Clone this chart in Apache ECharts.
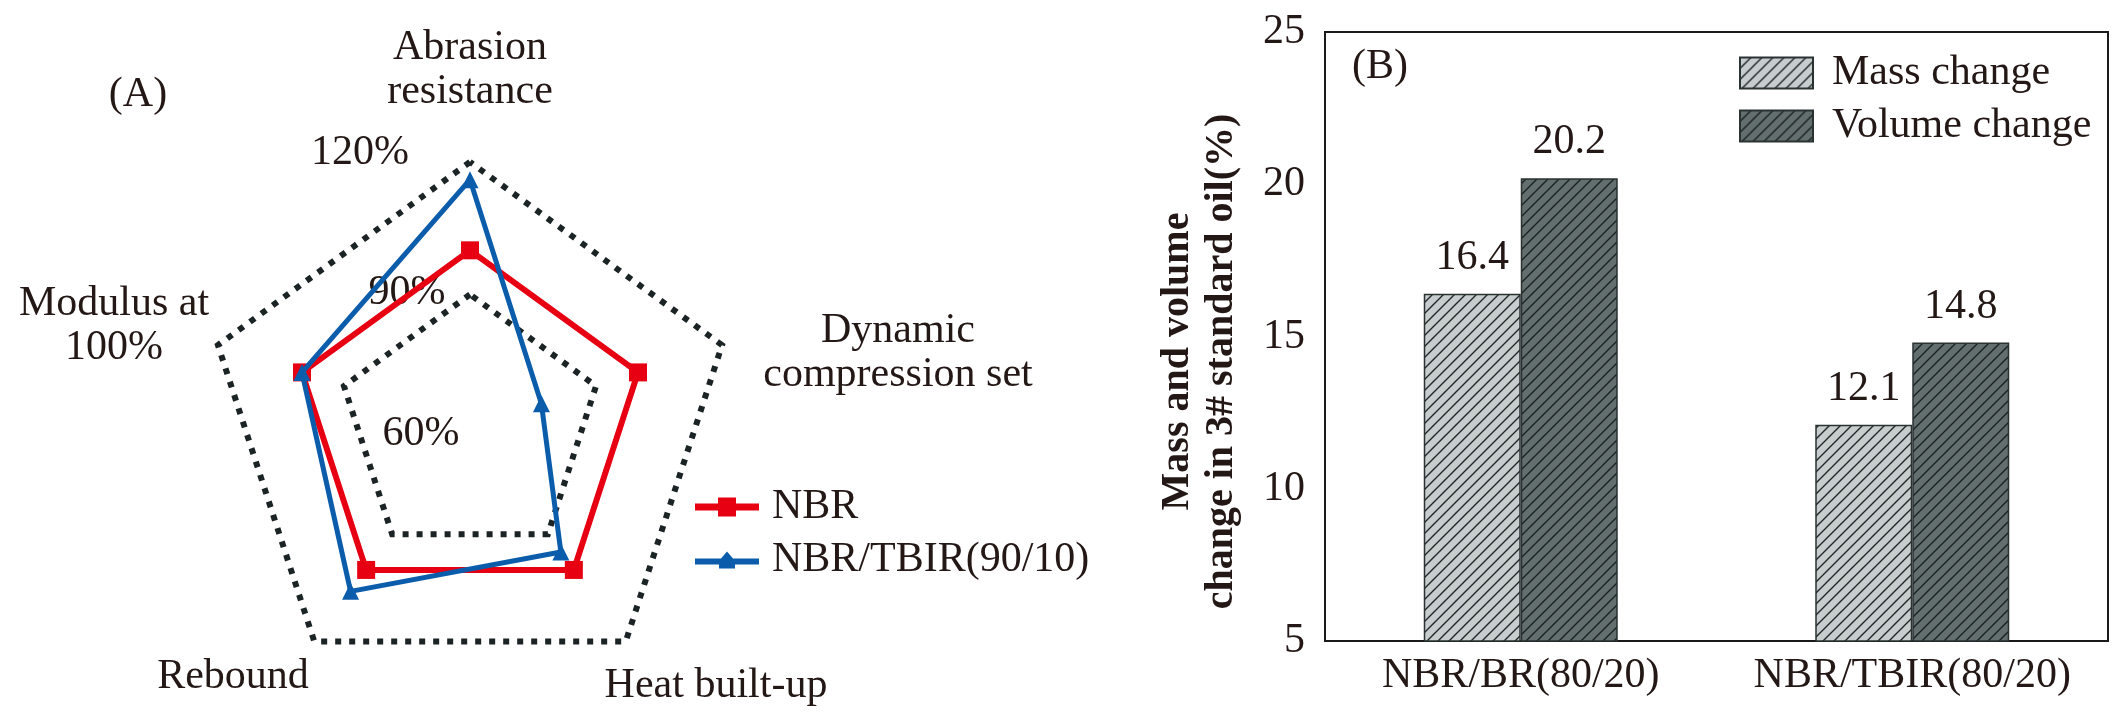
<!DOCTYPE html>
<html>
<head>
<meta charset="utf-8">
<script src="https://cdn.jsdelivr.net/npm/echarts@6/dist/echarts.min.js"></script>
<style>
html,body{margin:0;padding:0;background:#fff;}
#c{width:2128px;height:724px;}
</style>
</head>
<body>
<div id="c"></div>
<script>
// ---------- Data ----------
const radarIndicators = ['Abrasion\nresistance', 'Modulus at\n100%', 'Rebound', 'Heat built-up', 'Dynamic\ncompression set'];
const radarSeriesNames = ['NBR', 'NBR/TBIR(90/10)'];
const nbrValues = [100, 100, 100, 100, 100];
const tbirValues = [116, 100, 106, 95, 77];
const radarTickLabels = ['60%', '90%', '120%'];

const barCategories = ['NBR/BR(80/20)', 'NBR/TBIR(80/20)'];
const barSeriesNames = ['Mass change', 'Volume change'];
const massChange = [16.4, 12.1];
const volumeChange = [20.2, 14.8];

// ---------- Styles ----------
const TXT = '#231815';
const FONT = '"Liberation Serif", "DejaVu Serif", serif';

function hatch(bg, fg) {
  const s = 11;
  const c = document.createElement('canvas');
  c.width = s; c.height = s;
  const g = c.getContext('2d');
  g.fillStyle = bg; g.fillRect(0, 0, s, s);
  g.strokeStyle = fg; g.lineWidth = 1.4;
  g.beginPath();
  g.moveTo(-2, s + 2); g.lineTo(s + 2, -2);
  g.moveTo(-2, 2); g.lineTo(2, -2);
  g.moveTo(s - 2, s + 2); g.lineTo(s + 2, s - 2);
  g.stroke();
  return c;
}
const massPattern = { image: hatch('#c7cccd', '#1f2727'), repeat: 'repeat' };
const volPattern = { image: hatch('#636e6e', '#1a2121'), repeat: 'repeat' };

const iconSquare = 'path://M0,6H23V0H41V6H64V13H41V19H23V13H0Z';
const iconTri = 'path://M0,7H26L32,0L38,7H64V13H40V17H24V13H0Z';

const chart = echarts.init(document.getElementById('c'), null, { renderer: 'canvas' });

function txt(x, y, text, opts) {
  return {
    type: 'text', x: x, y: y,
    style: Object.assign({
      text: text, fill: TXT, font: '42px ' + FONT,
      align: 'center', verticalAlign: 'middle', lineHeight: 44
    }, opts || {})
  };
}

const option = {
  backgroundColor: '#ffffff',
  animation: false,
  textStyle: { fontFamily: FONT, color: TXT },
  radar: {
    center: [470, 427],
    radius: 265,
    startAngle: 90,
    splitNumber: 2,
    shape: 'polygon',
    indicator: radarIndicators.map(n => ({ name: n, min: 60, max: 120 })),
    axisName: { show: false },
    axisLine: { show: false },
    axisTick: { show: false },
    axisLabel: { show: false },
    splitArea: { show: false },
    splitLine: { lineStyle: { color: '#1b2325', width: 6, type: [6, 8] } }
  },
  legend: [
    {
      orient: 'vertical',
      left: 690, top: 480,
      itemWidth: 64, itemHeight: 20, itemGap: 9,
      data: [
        { name: radarSeriesNames[0], icon: iconSquare },
        { name: radarSeriesNames[1], icon: iconTri }
      ],
      textStyle: { fontSize: 42, lineHeight: 44, fontFamily: FONT, color: TXT, padding: [0, 0, 0, 8] }
    },
    {
      orient: 'vertical',
      left: 1734, top: 46,
      itemWidth: 73, itemHeight: 31, itemGap: 9,
      icon: 'rect',
      data: barSeriesNames,
      textStyle: { fontSize: 42, lineHeight: 44, fontFamily: FONT, color: TXT, padding: [0, 0, 0, 14] }
    }
  ],
  grid: {
    left: 1325, top: 32, right: 20, bottom: 83,
    show: true, borderColor: '#1a1a1a', borderWidth: 2, backgroundColor: 'transparent'
  },
  xAxis: {
    type: 'category',
    data: barCategories,
    axisLine: { show: true, lineStyle: { color: '#1a1a1a', width: 2 } },
    axisTick: { show: false },
    axisLabel: { fontSize: 42, fontFamily: FONT, color: TXT, margin: 14, interval: 0 }
  },
  yAxis: {
    type: 'value',
    min: 5, max: 25, interval: 5,
    name: 'Mass and volume\nchange in 3# standard oil(%)',
    nameLocation: 'middle',
    nameGap: 81,
    nameTextStyle: { fontSize: 40, fontWeight: 'bold', fontFamily: FONT, color: TXT, lineHeight: 44,
                     padding: [0, 50, 0, 0] },
    axisLine: { show: true, lineStyle: { color: '#1a1a1a', width: 2 } },
    axisTick: { show: false },
    splitLine: { show: false },
    axisLabel: { fontSize: 42, fontFamily: FONT, color: TXT, margin: 20 }
  },
  series: [
    {
      type: 'radar',
      name: 'radarA',
      symbol: 'rect', symbolSize: 18,
      lineStyle: { color: '#e60012', width: 6 },
      itemStyle: { color: '#e60012' },
      data: [{ name: radarSeriesNames[0], value: nbrValues }],
      z: 3
    },
    {
      type: 'radar',
      name: 'radarB',
      symbol: 'triangle', symbolSize: 17,
      lineStyle: { color: '#0b5dac', width: 5 },
      itemStyle: { color: '#0b5dac' },
      data: [{ name: radarSeriesNames[1], value: tbirValues }],
      z: 4
    },
    {
      type: 'bar',
      name: barSeriesNames[0],
      data: massChange,
      barWidth: 97,
      barGap: '0%',
      itemStyle: { color: massPattern, borderColor: '#2a3232', borderWidth: 1.5 },
      label: { show: true, position: 'top', distance: 15, fontSize: 42, fontFamily: FONT, color: TXT,
               formatter: p => p.value.toFixed(1) }
    },
    {
      type: 'bar',
      name: barSeriesNames[1],
      data: volumeChange,
      barWidth: 97,
      barGap: '0%',
      itemStyle: { color: volPattern, borderColor: '#2a3232', borderWidth: 1.5 },
      label: { show: true, position: 'top', distance: 15, fontSize: 42, fontFamily: FONT, color: TXT,
               formatter: p => p.value.toFixed(1) }
    }
  ],
  graphic: [
    txt(138, 95, '(A)'),
    txt(1380, 67, '(B)'),
    txt(470, 70, radarIndicators[0]),
    txt(114, 326, radarIndicators[1]),
    txt(233, 677, radarIndicators[2]),
    txt(716, 686, radarIndicators[3]),
    txt(898, 353, radarIndicators[4]),
    txt(421, 434, radarTickLabels[0]),
    txt(407, 293, radarTickLabels[1]),
    txt(360, 153, radarTickLabels[2])
  ]
};
chart.setOption(option);
</script>
</body>
</html>
